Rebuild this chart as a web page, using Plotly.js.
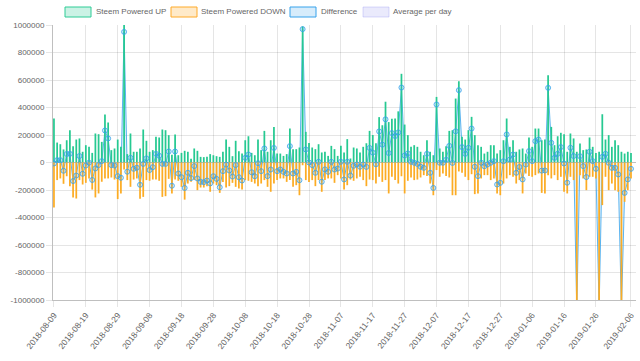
<!DOCTYPE html>
<html>
<head>
<meta charset="utf-8">
<script src="https://cdn.plot.ly/plotly-3.0.1.min.js"></script>
<style>html,body{margin:0;padding:0;background:#fff;}#chart{width:640px;height:361px;}</style>
</head>
<body>
<div id="chart"></div>
<script>
// ---- Data ----
const startDate = '2018-08-09';
const seriesNames = ['Steem Powered UP', 'Steem Powered DOWN', 'Difference', 'Average per day'];

const poweredUp = [
 320000,145000,133000,95000,162000,235000,119000,167000,175000,78000,
 126000,114000,70000,211000,206000,150000,349000,291000,90000,102000,
 167000,114000,1000000,61000,211000,78000,78000,102000,240000,158000,
 78000,90000,187000,182000,240000,235000,199000,56000,204000,53000,
 70000,85000,78000,27000,102000,85000,41000,39000,41000,61000,
 53000,46000,41000,78000,167000,114000,46000,158000,82000,65000,
 162000,191000,70000,53000,167000,90000,230000,78000,162000,259000,
 65000,65000,48000,61000,247000,97000,97000,109000,990000,223000,
 141000,109000,97000,133000,73000,78000,48000,121000,97000,48000,
 121000,73000,170000,29000,109000,102000,73000,114000,140000,230000,
 200000,140000,330000,271000,442000,294000,318000,320000,372000,645000,
 276000,199000,114000,126000,114000,
 78000,53000,162000,78000,53000,477000,102000,78000,119000,230000,
 235000,465000,591000,187000,167000,235000,332000,199000,126000,114000,
 65000,78000,126000,126000,65000,90000,162000,320000,114000,162000,
 78000,95000,102000,65000,182000,114000,247000,247000,162000,167000,
 635000,259000,126000,191000,216000,206000,78000,211000,175000,78000,
 138000,90000,95000,182000,114000,70000,78000,351000,167000,199000,
 114000,162000,126000,78000,65000,78000,70000
];

const poweredDown = [
 -327000,-128000,-116000,-155000,-100000,-172000,-254000,-262000,-128000,-160000,
 -148000,-116000,-197000,-254000,-225000,-140000,-116000,-116000,-109000,-124000,
 -266000,-225000,-50000,-128000,-177000,-124000,-116000,-264000,-250000,-128000,
 -133000,-124000,-124000,-133000,-250000,-245000,-119000,-225000,-124000,-133000,
 -177000,-270000,-153000,-140000,-128000,-201000,-182000,-182000,-172000,-213000,
 -153000,-165000,-221000,-141000,-182000,-172000,-148000,-177000,-189000,-196000,
 -128000,-133000,-141000,-153000,-172000,-153000,-128000,-177000,-213000,-153000,
 -128000,-116000,-116000,-141000,-128000,-177000,-165000,-238000,-20000,-128000,
 -141000,-128000,-172000,-128000,-213000,-128000,-116000,-116000,-148000,-92000,
 -116000,-196000,-165000,-124000,-133000,-116000,-104000,-128000,-172000,-124000,
 -128000,-153000,-104000,-141000,-128000,-225000,-104000,-128000,-153000,-100000,
 -225000,-133000,-109000,-128000,-124000,
 -109000,-92000,-99000,-153000,-238000,-55000,-104000,-80000,-99000,-109000,
 -238000,-238000,-65000,-75000,-104000,-128000,-85000,-230000,-225000,-116000,
 -92000,-92000,-128000,-116000,-225000,-238000,-153000,-116000,-92000,-104000,
 -153000,-128000,-225000,-80000,-99000,-104000,-92000,-80000,-221000,-225000,
 -92000,-116000,-92000,-128000,-104000,-213000,-225000,-104000,-128000,-1150000,
 -92000,-116000,-201000,-104000,-104000,-116000,-1150000,-310000,-104000,-201000,
 -153000,-201000,-213000,-1150000,-286000,-201000,-116000
];

const xTickLabels = ['2018-08-09','2018-08-19','2018-08-29','2018-09-08','2018-09-18','2018-09-28',
 '2018-10-08','2018-10-18','2018-10-28','2018-11-07','2018-11-17','2018-11-27','2018-12-07',
 '2018-12-17','2018-12-27','2019-01-06','2019-01-16','2019-01-26','2019-02-06'];
const yTickValues = [-1000000,-800000,-600000,-400000,-200000,0,200000,400000,600000,800000,1000000];

// ---- Derived ----
const DAY = 86400000;
const t0 = Date.parse(startDate + 'T00:00:00Z');
const dates = poweredUp.map((_, i) => new Date(t0 + i * DAY).toISOString().slice(0, 10));
const difference = poweredUp.map((v, i) => v + poweredDown[i]);

const GREEN = 'rgb(38,201,145)';
const ORANGE = 'rgb(252,172,36)';
const BLUE = 'rgb(54,162,235)';
const FONT = {family: 'Liberation Sans, Arial, sans-serif', size: 8, color: '#666'};
const Y_RANGE = [-1000000, 1000000];

const traces = [
  // difference line + area (beneath the bars)
  {type: 'scatter', mode: 'lines', name: seriesNames[2], x: dates, y: difference,
   xaxis: 'x', yaxis: 'y',
   fill: 'tozeroy', fillcolor: 'rgba(54,162,235,0.15)',
   line: {color: 'rgba(54,162,235,0.8)', width: 1}},
  {type: 'bar', name: seriesNames[0], x: dates, y: poweredUp, xaxis: 'x', yaxis: 'y2',
   width: 0.55 * DAY, marker: {color: GREEN, line: {width: 0}}},
  {type: 'bar', name: seriesNames[1], x: dates, y: poweredDown, xaxis: 'x', yaxis: 'y2',
   width: 0.55 * DAY, marker: {color: ORANGE, line: {width: 0}}},
  // difference point markers (above the bars)
  {type: 'scatter', mode: 'markers', name: seriesNames[2], x: dates, y: difference,
   xaxis: 'x', yaxis: 'y3',
   marker: {size: 5, color: 'rgba(54,162,235,0.2)', line: {color: 'rgba(54,162,235,0.8)', width: 1}}}
];

// plot area in pixels
const L = 53, R = 636, T = 25, B = 300;
const px = x => (x - L) / (R - L);
const py = y => (B - y) / (B - T);

const legendItems = [
  {box: 65, text: 96, fill: 'rgba(46,204,150,0.25)', line: 'rgb(46,204,150)', label: seriesNames[0]},
  {box: 171, text: 201, fill: 'rgba(255,170,40,0.25)', line: 'rgb(255,170,40)', label: seriesNames[1]},
  {box: 290, text: 321, fill: 'rgba(54,162,235,0.2)', line: BLUE, label: seriesNames[2]},
  {box: 363, text: 393, fill: 'rgba(150,150,240,0.2)', line: 'rgba(150,150,240,0.35)', label: seriesNames[3]}
];
const shapes = legendItems.map(it => ({
  type: 'rect', xref: 'paper', yref: 'paper',
  x0: px(it.box), x1: px(it.box + 26), y0: py(17), y1: py(7),
  fillcolor: it.fill, line: {color: it.line, width: 1}
}));
const annotations = legendItems.map(it => ({
  xref: 'paper', yref: 'paper', x: px(it.text - 2), y: py(12),
  xanchor: 'left', yanchor: 'middle', showarrow: false, text: it.label, font: FONT
}));

const hiddenY = {overlaying: 'y', range: Y_RANGE, visible: false, showgrid: false, zeroline: false};

const layout = {
  width: 640, height: 361,
  margin: {l: L, r: 640 - R, t: T, b: 361 - B},
  paper_bgcolor: '#fff', plot_bgcolor: '#fff',
  showlegend: false,
  barmode: 'relative',
  font: FONT,
  xaxis: {
    type: 'date', range: [t0 - 0.3 * DAY, t0 + 182.57 * DAY],
    tickvals: xTickLabels, ticktext: xTickLabels, tickangle: -52,
    showgrid: true, gridcolor: 'rgba(0,0,0,0.1)', gridwidth: 1,
    ticks: 'outside', ticklen: 6, tickcolor: 'rgba(0,0,0,0.1)',
    showline: true, linecolor: 'rgba(0,0,0,0.25)', linewidth: 1,
    zeroline: false, tickfont: {family: FONT.family, size: 8.5, color: '#666'}
  },
  yaxis: {
    range: Y_RANGE, tickvals: yTickValues, ticktext: yTickValues.map(v => String(v)),
    showgrid: true, gridcolor: 'rgba(0,0,0,0.1)', gridwidth: 1,
    ticks: 'outside', ticklen: 6, tickcolor: 'rgba(0,0,0,0.1)',
    showline: true, linecolor: 'rgba(0,0,0,0.25)', linewidth: 1,
    zeroline: true, zerolinecolor: 'rgba(0,0,0,0.25)', zerolinewidth: 1,
    tickfont: FONT
  },
  yaxis2: Object.assign({}, hiddenY),
  yaxis3: Object.assign({}, hiddenY),
  shapes: shapes,
  annotations: annotations
};

Plotly.newPlot('chart', traces, layout, {staticPlot: true, displayModeBar: false});
</script>
</body>
</html>
